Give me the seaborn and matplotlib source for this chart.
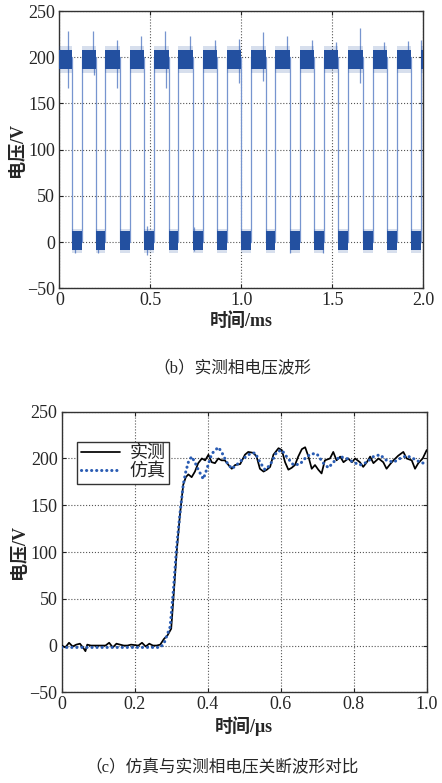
import numpy as np
import pandas as pd
import matplotlib
matplotlib.use('Agg')
import matplotlib.pyplot as plt
import seaborn as sns

# ---- (b) measured phase voltage, PWM edges in ms ----
high_start = [0.0, 0.123, 0.253, 0.386, 0.520, 0.654, 0.788, 0.921,
              1.055, 1.187, 1.321, 1.454, 1.588, 1.722, 1.853, 1.987]
high_end = [0.068, 0.201, 0.333, 0.465, 0.601, 0.733, 0.866, 1.000,
            1.134, 1.267, 1.399, 1.533, 1.667, 1.800, 1.934, 2.0]
high_level = 200
low_level = 0
high_band = (187, 208)
high_fringe = (183, 212)
low_band = (-9, 12)
low_fringe = (-12, 14)

# overshoot / undershoot spikes (ms, V)
spike_t = [0.049, 0.187, 0.319, 0.451, 0.582, 0.718, 0.853, 0.987, 1.119,
           1.253, 1.386, 1.518, 1.652, 1.786, 1.918, 1.987,
           0.049, 0.319, 0.584, 0.190, 0.987, 1.652, 1.121,
           0.086, 0.211, 0.481, 0.738, 1.267, 1.447, 0.481, 0.738]
spike_v = [228, 228, 219, 223, 228, 223, 219, 220, 227,
           223, 219, 216, 232, 216, 218, 219,
           167, 167, 167, 181, 172, 172, 174,
           -12, -12, -14, -10, -12, -12, 17, 16]

# ---- (c) turn-off transient, us ----
meas_t = [0, 0.01, 0.02, 0.03, 0.04, 0.05, 0.06, 0.065, 0.07, 0.08, 0.10,
          0.12, 0.13, 0.14, 0.15, 0.17, 0.18, 0.19, 0.21, 0.22, 0.23, 0.24,
          0.25, 0.26, 0.27, 0.28, 0.29, 0.30, 0.306, 0.315, 0.324, 0.333,
          0.340, 0.347, 0.356, 0.365, 0.374, 0.384, 0.393, 0.402, 0.411,
          0.420, 0.429, 0.438, 0.447, 0.457, 0.466, 0.475, 0.489, 0.502,
          0.511, 0.525, 0.534, 0.543, 0.553, 0.562, 0.571, 0.580, 0.594,
          0.603, 0.612, 0.621, 0.630, 0.639, 0.648, 0.658, 0.667, 0.676,
          0.685, 0.694, 0.703, 0.712, 0.721, 0.735, 0.744, 0.753, 0.763,
          0.772, 0.785, 0.795, 0.804, 0.817, 0.826, 0.836, 0.845, 0.854,
          0.868, 0.881, 0.890, 0.900, 0.909, 0.922, 0.936, 0.945, 0.959,
          0.968, 0.977, 0.989, 1.0]
meas_v = [0, -2, 3, -1, 1, 2, -3, -6, 1, 0, 0,
          0, 3, -2, 2, 0, 0, 1, 0, 3, -1, 2,
          0, 0, 1, 7, 11, 18, 50, 100, 140, 172,
          180, 183, 180, 186, 195, 200, 198, 204, 196,
          195, 200, 198, 198, 193, 189, 193, 194, 204,
          207, 206, 202, 189, 186, 188, 191, 204, 211,
          209, 196, 188, 190, 193, 202, 210, 212, 202,
          189, 193, 188, 184, 198, 200, 207, 198, 202,
          196, 200, 196, 200, 196, 191, 196, 202, 195,
          200, 196, 189, 194, 198, 203, 207, 200, 198,
          189, 195, 200, 209]

sim_t = [0, 0.10, 0.20, 0.27, 0.280, 0.297, 0.306, 0.315, 0.324, 0.333,
         0.340, 0.347, 0.356, 0.365, 0.374, 0.388, 0.397, 0.411, 0.429,
         0.438, 0.452, 0.466, 0.479, 0.498, 0.516, 0.530, 0.543, 0.557,
         0.571, 0.589, 0.603, 0.616, 0.635, 0.653, 0.671, 0.685, 0.699,
         0.717, 0.731, 0.744, 0.763, 0.781, 0.799, 0.817, 0.836, 0.854,
         0.872, 0.890, 0.909, 0.927, 0.945, 0.963, 0.982, 1.0]
sim_v = [-2, -2, -2, -2, 2, 20, 59, 106, 141, 172,
         186, 196, 202, 196, 188, 178, 188, 205, 212,
         207, 196, 189, 193, 200, 205, 206, 196, 188,
         193, 207, 209, 202, 193, 194, 202, 205, 205,
         195, 190, 196, 202, 200, 196, 193, 196, 202,
         204, 198, 196, 200, 203, 200, 196, 194]

band_color = '#2350a0'
edge_color = '#7795cf'
grid_kw = dict(color='#555555', linestyle=':', linewidth=0.8)
serif_cjk = ['Liberation Serif', 'Noto Sans CJK SC']

sns.set_style('ticks')
plt.rcParams['font.family'] = ['Liberation Serif', 'Noto Sans CJK SC']
plt.rcParams['axes.unicode_minus'] = True

fig = plt.figure(figsize=(4.42, 7.83), dpi=100, facecolor='white')
ax1 = fig.add_axes([0.1342, 0.6318, 0.8235, 0.3541])
ax2 = fig.add_axes([0.1396, 0.1158, 0.8258, 0.3584])

# step trace from edges
tx, ty = [], []
for s, e in zip(high_start, high_end):
    if s > 0:
        tx += [s, s]
        ty += [low_level, high_level]
    else:
        tx.append(s)
        ty.append(high_level)
    if e < 2.0:
        tx += [e, e]
        ty += [high_level, low_level]
    else:
        tx.append(e)
        ty.append(high_level)
trace = pd.DataFrame({'t': tx, 'v': ty})
sns.lineplot(data=trace, x='t', y='v', estimator=None, sort=False,
             color=edge_color, lw=0.9, ax=ax1, zorder=2)

# noise bands on the flat parts
low_start = high_end[:-1]
low_end = high_start[1:]
for s, e in zip(high_start, high_end):
    ax1.fill_between([s, e], *high_fringe, color=band_color, alpha=0.18, lw=0, zorder=3)
    ax1.fill_between([s, e], *high_band, color=band_color, lw=0, zorder=3)
for s, e in zip(low_start, low_end):
    ax1.fill_between([s, e], *low_fringe, color=band_color, alpha=0.18, lw=0, zorder=3)
    ax1.fill_between([s, e], *low_band, color=band_color, lw=0, zorder=3)
spike_base = [high_level if v > 100 else low_level for v in spike_v]
ax1.vlines(spike_t, spike_base, spike_v, color=edge_color, lw=0.9, zorder=2)

ax1.set_xlim(0, 2.0)
ax1.set_ylim(-50, 250)
ax1.set_xticks([0, 0.5, 1.0, 1.5, 2.0])
ax1.set_xticklabels(['0', '0.5', '1.0', '1.5', '2.0'])
ax1.set_yticks(range(-50, 251, 50))
ax1.set_xlabel('时间/ms', fontsize=13, fontweight='bold', labelpad=2)
ax1.set_ylabel('电压/V', fontsize=13, fontweight='bold', labelpad=1)

# (c) comparison
sns.lineplot(x=meas_t, y=meas_v, color='black', lw=1.25, ax=ax2,
             label='实测', zorder=3)
sns.lineplot(x=sim_t, y=sim_v, color='#2a5cb3', lw=2.2, ax=ax2,
             label='仿真', zorder=4, linestyle=(0, (0.05, 1.6)),
             dash_capstyle='round')
ax2.set_xlim(0, 1.0)
ax2.set_ylim(-50, 250)
ax2.set_xticks([0, 0.2, 0.4, 0.6, 0.8, 1.0])
ax2.set_xticklabels(['0', '0.2', '0.4', '0.6', '0.8', '1.0'])
ax2.set_yticks(range(-50, 251, 50))
ax2.set_xlabel('时间/μs', fontsize=13, fontweight='bold', labelpad=2)
ax2.set_ylabel('电压/V', fontsize=13, fontweight='bold', labelpad=1)
leg = ax2.legend(loc='upper left', bbox_to_anchor=(0.042, 0.893),
                 borderaxespad=0, frameon=True, fancybox=False,
                 handlelength=2.2, handletextpad=0.5, borderpad=0.2,
                 labelspacing=0.05, prop={'family': serif_cjk, 'size': 13})
leg.get_frame().set_edgecolor('#333333')
leg.get_frame().set_linewidth(1.0)
leg.get_frame().set_alpha(1)

for ax in (ax1, ax2):
    ax.set_facecolor('white')
    ax.grid(True, **grid_kw)
    ax.tick_params(direction='in', top=True, right=True, length=3,
                   labelsize=13, pad=3, color='#222222')
    for sp in ax.spines.values():
        sp.set_visible(True)
        sp.set_color('#333333')
        sp.set_linewidth(1.0)

fig.text(0.525, 1 - 368 / 783, '（b）实测相电压波形', ha='center', va='center',
         fontsize=12, family=serif_cjk)
fig.text(0.502, 1 - 768 / 783, '（c）仿真与实测相电压关断波形对比', ha='center',
         va='center', fontsize=12, family=serif_cjk)

plt.savefig('out.png', dpi=100, facecolor='white')
